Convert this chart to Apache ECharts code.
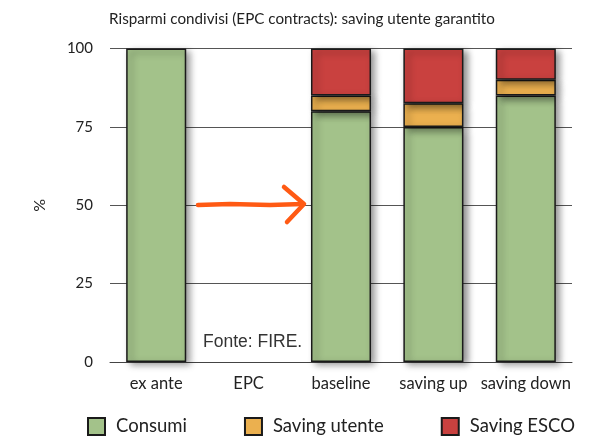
<!DOCTYPE html>
<html>
<head>
<meta charset="utf-8">
<script src="https://cdn.jsdelivr.net/npm/echarts@6/dist/echarts.min.js"></script>
<style>
  html, body { margin: 0; padding: 0; background: #fff; }
  #chart { width: 598px; height: 444px; }
</style>
</head>
<body>
<div id="chart"></div>
<script>
// dati
var categories = ['ex ante', 'EPC', 'baseline', 'saving up', 'saving down']
var consumi = [100, '-', 80, 75, 85]
var savingUtente = ['-', '-', 5, 7.5, 5]
var savingEsco = ['-', '-', 15, 17.5, 10]
var yTicks = [0, 25, 50, 75, 100]

var font = 'Lato, "Open Sans", sans-serif'
var barStyle = function (color) {
  return {
    color: color,
    borderColor: '#1a1a1a',
    borderWidth: 1.5,
    shadowColor: 'rgba(0,0,0,0.45)',
    shadowBlur: 7,
    shadowOffsetX: 4,
    shadowOffsetY: 3
  }
}

var chart = echarts.init(document.getElementById('chart'))
var option = {
  animation: false,
  title: {
    text: 'Risparmi condivisi (EPC contracts): saving utente garantito',
    left: 297,
    textAlign: 'center',
    top: 7,
    textStyle: { fontFamily: font, fontSize: 15.2, fontWeight: 'normal', color: '#222' }
  },
  legend: {
    bottom: 3,
    left: 82,
    itemWidth: 17,
    itemHeight: 17,
    itemGap: 57,
    icon: 'rect',
    textStyle: { fontFamily: font, fontSize: 18.5, color: '#222', padding: [0, 0, 0, 6] },
    data: ['Consumi', 'Saving utente', 'Saving ESCO']
  },
  grid: { left: 110, right: 26, top: 48.5, bottom: 82 },
  xAxis: {
    type: 'category',
    data: categories,
    axisLine: { lineStyle: { color: '#444', width: 1 } },
    axisTick: { show: false },
    axisLabel: { interval: 0, fontFamily: font, fontSize: 16.5, color: '#222', margin: 13 }
  },
  yAxis: {
    type: 'value',
    min: 0,
    max: 100,
    interval: 25,
    name: '%',
    nameLocation: 'middle',
    nameGap: 62,
    nameRotate: 90,
    nameTextStyle: { fontFamily: font, fontSize: 16, color: '#222' },
    axisLine: { show: false },
    axisTick: { show: false },
    axisLabel: {
      fontFamily: font, fontSize: 15, color: '#222', margin: 17,
      formatter: function (v) { return yTicks.indexOf(v) >= 0 ? String(v) : '' }
    },
    splitLine: { lineStyle: { color: '#555', width: 1 } }
  },
  series: [
    { name: 'Consumi', type: 'bar', stack: 'tot', barWidth: '65%', data: consumi, itemStyle: barStyle('#a3c28a') },
    { name: 'Saving utente', type: 'bar', stack: 'tot', data: savingUtente, itemStyle: barStyle('#ebb04f') },
    { name: 'Saving ESCO', type: 'bar', stack: 'tot', data: savingEsco, itemStyle: barStyle('#c9413f') }
  ],
  graphic: [
    {
      type: 'rect', left: 198, top: 331, shape: { width: 110, height: 26 },
      style: { fill: '#fff' }, z: 50
    },
    {
      type: 'text', left: 203, top: 333, z: 51,
      style: { text: 'Fonte: FIRE.', fontFamily: '"Liberation Sans", Arial, sans-serif', fontSize: 17.5, fill: '#333' }
    },
    {
      type: 'polyline', z: 52,
      shape: { points: [[198, 205], [230, 204], [270, 205], [303, 204]] },
      style: { stroke: '#ff5a14', lineWidth: 4.5, lineCap: 'round', lineJoin: 'round' }
    },
    {
      type: 'polyline', z: 52,
      shape: { points: [[284, 187], [304, 204], [287, 222]] },
      style: { stroke: '#ff5a14', lineWidth: 4.5, lineCap: 'round', lineJoin: 'round', fill: null }
    }
  ]
}
chart.setOption(option)
</script>
</body>
</html>
